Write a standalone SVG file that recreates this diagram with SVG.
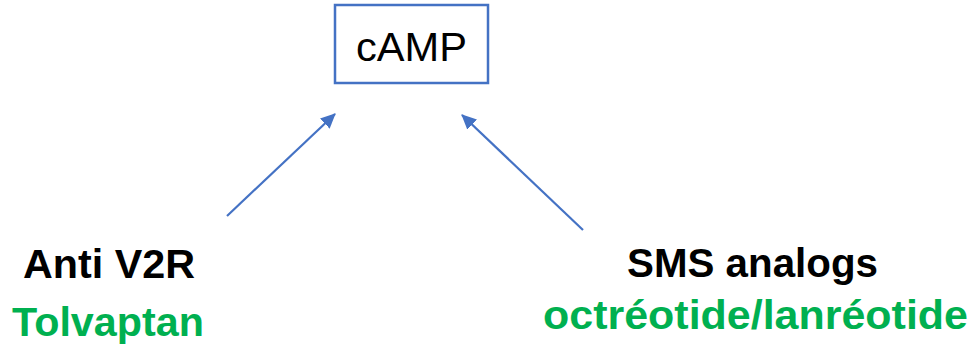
<svg xmlns="http://www.w3.org/2000/svg" width="979" height="346" viewBox="0 0 979 346">
<style>
.lbl{font-family:"Liberation Sans",Arial,sans-serif;font-weight:bold;font-size:40px}
.blk{fill:#000}
.grn{fill:#00B050}
.conn{stroke:#4472C4;stroke-width:2.2;fill:none}
</style>
<defs>
<marker id="ah" markerUnits="userSpaceOnUse" markerWidth="16" markerHeight="14" refX="14" refY="7" orient="auto">
<path d="M0,0 L15,7 L0,14 Z" fill="#4472C4"/>
</marker>
</defs>
<rect width="979" height="346" fill="#fff"/>
<g id="camp">
<rect x="335" y="5" width="153" height="78" fill="#fff" stroke="#4472C4" stroke-width="2.5"/>
<text x="411.5" y="61" text-anchor="middle" font-family="Liberation Sans,Arial,sans-serif" font-size="40" fill="#000" textLength="111" lengthAdjust="spacingAndGlyphs">cAMP</text>
</g>
<g id="connectors">
<line class="conn" x1="227" y1="216" x2="335" y2="114" marker-end="url(#ah)"/>
<line class="conn" x1="583" y1="230" x2="462" y2="115" marker-end="url(#ah)"/>
</g>
<g id="anti-v2r">
<text class="lbl blk" x="23" y="278" textLength="172" lengthAdjust="spacingAndGlyphs">Anti V2R</text>
<text class="lbl grn" x="12" y="336" textLength="192" lengthAdjust="spacingAndGlyphs">Tolvaptan</text>
</g>
<g id="sms">
<text class="lbl blk" x="627" y="277" textLength="251" lengthAdjust="spacingAndGlyphs">SMS analogs</text>
<text class="lbl grn" x="543" y="329" textLength="425" lengthAdjust="spacingAndGlyphs">octréotide/lanréotide</text>
</g>
</svg>
